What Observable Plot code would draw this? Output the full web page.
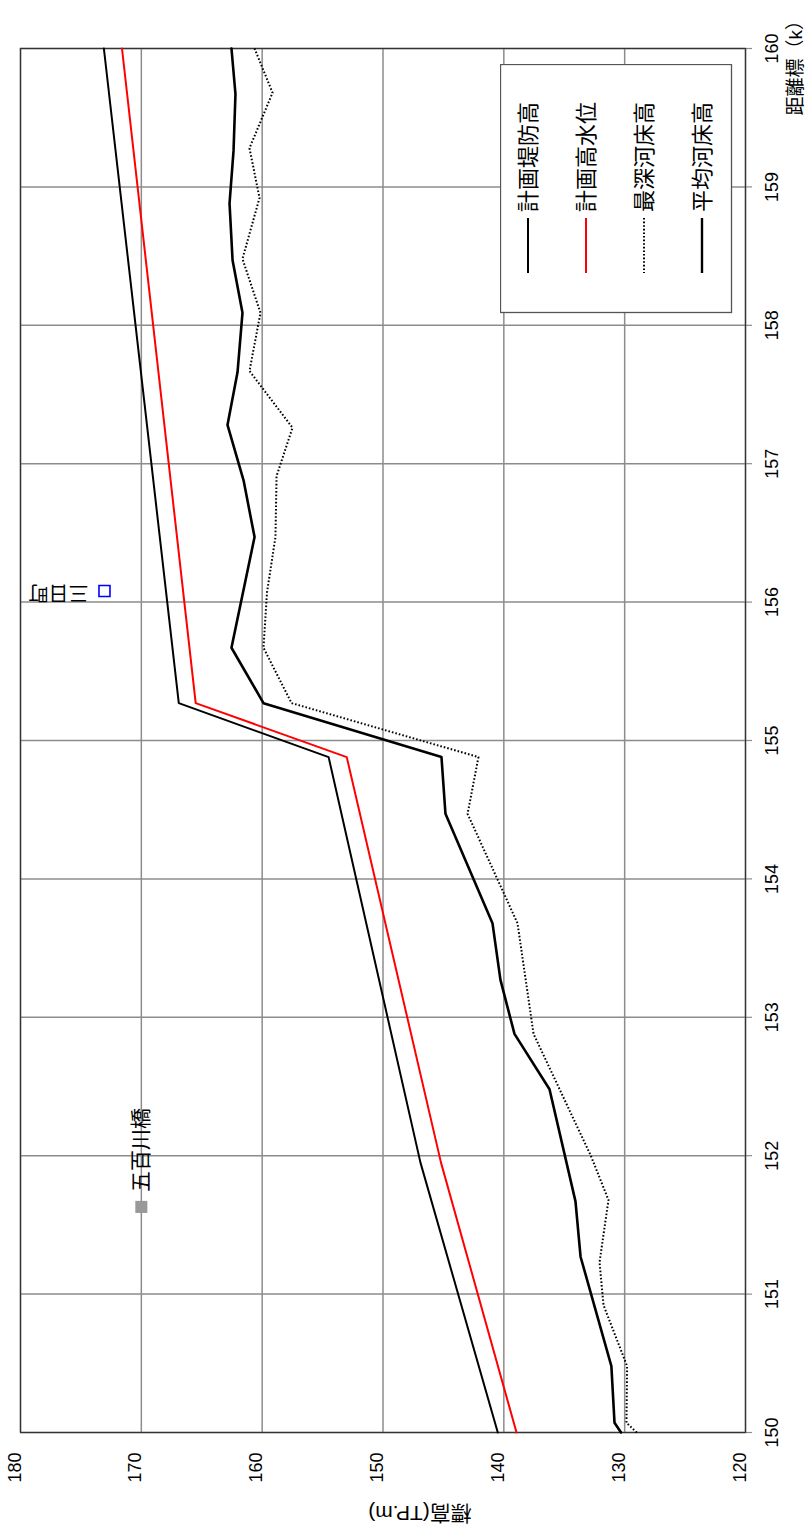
<!DOCTYPE html>
<html><head><meta charset="utf-8">
<script src="https://cdn.jsdelivr.net/npm/d3@7"></script>
<script src="https://cdn.jsdelivr.net/npm/@observablehq/plot@0.6"></script>
<style>
body{margin:0;background:#fff;}
#wrap{position:relative;width:808px;height:1524px;overflow:hidden;}
#legend{position:absolute;left:500px;top:64px;}
</style></head><body><div id="wrap"></div>
<script>
// ---- data ----
const elevTicks = [180, 170, 160, 150, 140, 130, 120];
const distTicks = [150, 151, 152, 153, 154, 155, 156, 157, 158, 159, 160];

const leveeDist = [150, 151.95, 154.88, 155.27, 160];
const leveeElev = [140.5, 146.9, 154.5, 166.9, 173.1];

const hwlDist = [150, 151.95, 154.88, 155.27, 160];
const hwlElev = [138.95, 145.2, 153.0, 165.5, 171.6];

const deepDist = [150, 150.07, 150.48, 150.92, 151.23, 151.68, 152.0, 152.88, 153.68, 154.47, 154.88, 155.27, 155.67, 156.07, 156.47, 156.91, 157.26, 157.67, 158.09, 158.48, 158.92, 159.28, 159.68, 160];
const deepElev = [129.0, 129.85, 129.8, 131.75, 132.08, 131.34, 132.8, 137.54, 138.87, 143.0, 142.1, 157.57, 159.89, 159.6, 158.9, 158.81, 157.49, 161.05, 160.14, 161.63, 160.22, 161.05, 159.14, 160.63];

const avgDist = [150, 150.07, 150.48, 151.27, 151.67, 152.48, 152.88, 153.27, 153.68, 154.47, 154.88, 155.27, 155.67, 156.47, 156.88, 157.28, 157.66, 158.09, 158.47, 158.88, 159.26, 159.67, 160];
const avgElev = [130.3, 130.84, 131.1, 133.65, 134.07, 136.22, 139.12, 140.28, 140.94, 144.83, 145.16, 159.89, 162.54, 160.63, 161.54, 162.87, 162.04, 161.63, 162.45, 162.70, 162.37, 162.21, 162.54];

const placeNames = ["五百川橋", "三日町"];
const placeDist = [151.63, 156.08];
const placeElev = [170, 173.05];

const seriesNames = ["計画堤防高", "計画高水位", "最深河床高", "平均河床高"];
const seriesColors = ["#000000", "#ff0000", "#000000", "#000000"];

const xTitle = "標高(TP.m)";
const yTitle = "距離標（k）";

// ---- chart ----
const FONT = '"Liberation Sans","Noto Sans CJK JP",sans-serif';
const idx = a => ({length: a.length});

const chart = Plot.plot({
  width: 808, height: 1524,
  marginTop: 48, marginRight: 63, marginBottom: 92, marginLeft: 20,
  style: {fontFamily: FONT, fontSize: "18px", background: "#fff", color: "#000", overflow: "visible"},
  x: {domain: [180, 120], axis: null},
  y: {domain: [150, 160], axis: null},
  marks: [
    Plot.ruleX(elevTicks, {x: d => d, stroke: "#8c8c8c", strokeWidth: 1.5}),
    Plot.ruleY(distTicks, {y: d => d, stroke: "#8c8c8c", strokeWidth: 1.5}),
    Plot.ruleY(distTicks, {y: d => d, x1: 120, x2: 120, insetRight: -7, stroke: "#8c8c8c", strokeWidth: 1.2}),
    Plot.frame({stroke: "#333", strokeWidth: 1.3}),
    Plot.text(elevTicks, {x: d => d, text: d => String(d), frameAnchor: "bottom", dy: 20, rotate: -90, textAnchor: "end", fontSize: 18, fill: "#000"}),
    Plot.text(distTicks, {y: d => d, text: d => String(d), frameAnchor: "right", dx: 27, rotate: -90, textAnchor: "middle", fontSize: 18, fill: "#000"}),
    Plot.line(idx(leveeDist), {x: leveeElev, y: leveeDist, stroke: seriesColors[0], strokeWidth: 2}),
    Plot.line(idx(hwlDist), {x: hwlElev, y: hwlDist, stroke: seriesColors[1], strokeWidth: 2}),
    Plot.line(idx(deepDist), {x: deepElev, y: deepDist, stroke: seriesColors[2], strokeWidth: 2, strokeDasharray: "1.6,2", strokeLinecap: "butt"}),
    Plot.line(idx(avgDist), {x: avgElev, y: avgDist, stroke: seriesColors[3], strokeWidth: 2.6}),
    Plot.dot([0], {x: placeElev[0], y: placeDist[0], symbol: "square", r: 6.8, fill: "#999", stroke: "none"}),
    Plot.dot([1], {x: placeElev[1], y: placeDist[1], symbol: "square", r: 6.2, fill: "none", stroke: "#0000ff", strokeWidth: 1.6}),
    Plot.text([0], {x: placeElev[0], y: placeDist[0], text: () => placeNames[0], rotate: -90, textAnchor: "start", dy: -15, fontSize: 21, fill: "#000"}),
    Plot.text([1], {x: placeElev[1], y: placeDist[1], text: () => placeNames[1], rotate: 180, textAnchor: "start", dx: -16, dy: 1, fontSize: 20, fill: "#000"}),
    Plot.text([xTitle], {frameAnchor: "bottom", dx: 37, dy: 73, rotate: 180, textAnchor: "middle", fontSize: 21, fill: "#000"}),
    Plot.text([yTitle], {frameAnchor: "top-right", dx: 43, dy: 67, rotate: -90, textAnchor: "start", fontSize: 19, fill: "#000"})
  ]
});
const wrap = document.getElementById("wrap");
wrap.appendChild(chart);

// ---- legend ----
const lg = d3.create("svg").attr("id", "legend").attr("width", 233).attr("height", 250)
  .style("font-family", FONT).style("font-size", "22px");
lg.append("rect").attr("x", 0.5).attr("y", 0.5).attr("width", 231).attr("height", 248)
  .attr("fill", "#fff").attr("stroke", "#555").attr("stroke-width", 1.3);
const dashes = [null, null, "1.6,2", null];
const widths = [2, 2, 2, 2.4];
seriesNames.forEach((name, i) => {
  const cx = 28 + i * 58;
  const ln = lg.append("line").attr("x1", cx).attr("x2", cx).attr("y1", 154).attr("y2", 209)
    .attr("stroke", seriesColors[i]).attr("stroke-width", widths[i]);
  if (dashes[i]) ln.attr("stroke-dasharray", dashes[i]);
  lg.append("text").attr("transform", `translate(${cx},148) rotate(-90)`).attr("dy", "0.35em")
    .attr("fill", "#000").text(name);
});
wrap.appendChild(lg.node());
</script></body></html>
